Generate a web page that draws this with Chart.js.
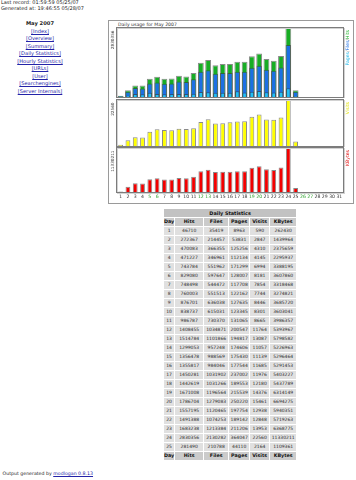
<!DOCTYPE html>
<html>
<head>
<meta charset="utf-8">
<script src="https://cdn.jsdelivr.net/npm/chart.js@4/dist/chart.umd.min.js"></script>
<style>
  html, body { margin:0; padding:0; background:#fff; }
  body { width:356px; height:480px; position:relative; overflow:hidden; font-family:"DejaVu Sans", Verdana, sans-serif; color:#222; }
  .hdr { position:absolute; left:1px; top:0px; font-size:5px; line-height:5.6px; white-space:nowrap; }
  .nav { position:absolute; left:0; top:20.3px; width:80px; text-align:center; font-size:5.1px; line-height:7.5px; }
  .nav b { font-size:5.2px; }
  a { color:#2323a8; text-decoration:underline; }
  .box { position:absolute; left:108px; top:20px; width:244px; height:182px; border:1px solid #9a9a9a; background:#fff; }
  .ttl { position:absolute; left:118px; top:21.6px; font-size:4.6px; line-height:5px; white-space:nowrap; color:#333; }
  canvas { position:absolute; left:108px; }
  #c1 { top:27px; } #c2 { top:99px; } #c3 { top:147px; }
  table.ds { position:absolute; left:163px; top:208px; border-collapse:separate; border-spacing:1px; background:#fff; font-size:4.5px; }
  table.ds td { height:8px; padding:0; line-height:8px; text-align:center; background:#e0e0e0; color:#2a2a2a; white-space:nowrap; }
  table.ds td.h { background:#cbcbcb; font-weight:bold; color:#111; font-size:4.8px; }
  table.ds td.t { background:#c2c2c2; font-weight:bold; color:#111; font-size:4.9px; }
  .foot { position:absolute; left:2.5px; top:471px; font-size:4.7px; line-height:5px; white-space:nowrap; }
</style>
</head>
<body>
<div class="hdr">Last record: 01:59:59 05/25/07<br>Generated at: 19:46:55 05/28/07</div>
<div class="nav">
  <b>May 2007</b><br>
  <a href="#">[Index]</a><br>
  <a href="#">[Overview]</a><br>
  <a href="#">[Summary]</a><br>
  <a href="#">[Daily Statistics]</a><br>
  <a href="#">[Hourly Statistics]</a><br>
  <a href="#">[URLs]</a><br>
  <a href="#">[User]</a><br>
  <a href="#">[Searchengines]</a><br>
  <a href="#">[Server Internals]</a>
</div>
<div class="box"></div>
<div class="ttl">Daily usage for May 2007</div>
<canvas id="c1" width="245" height="71"></canvas>
<canvas id="c2" width="245" height="48"></canvas>
<canvas id="c3" width="245" height="55"></canvas>
<table class="ds" id="tbl"></table>
<div class="foot">Output generated by <a href="#">modlogan 0.8.13</a></div>

<script>
// ---- data ----
const dayLabels = ['1','2','3','4','5','6','7','8','9','10','11','12','13','14','15','16','17','18','19','20','21','22','23','24','25','26','27','28','29','30','31'];
const weekendDays = ['5','6','12','13','19','20','26','27'];
const tableDays = ['1','2','3','4','5','6','7','8','9','10','11','12','13','14','15','16','17','18','19','20','21','22','23','24','25'];
const hits   = [46710,272367,470083,471227,743784,829080,748498,760003,876701,838737,986787,1408455,1514784,1299053,1356478,1355817,1450281,1442619,1671008,1786704,1557195,1491388,1683238,2830356,281490];
const files  = [35419,214457,366355,346961,551962,597647,544472,551513,636038,615031,730370,1034871,1101866,957248,988569,984046,1031902,1031266,1196564,1279083,1120465,1074253,1213384,2130282,210788];
const pages  = [8963,53831,125256,112134,171299,128007,117708,122162,127635,123345,131065,200547,194817,174606,175430,177544,237002,189553,215539,250220,197754,189142,211206,364047,44110];
const visits = [590,2847,4310,4145,6994,8181,7854,7744,8446,8301,8665,11764,13087,11057,11139,11685,11976,12180,14376,15461,12938,12848,13953,22560,2164];
const kbytes = [262430,1439964,2375659,2295937,3388195,3607860,3318468,3274821,3685720,3603041,3986357,5393967,5798582,5226963,5296464,5291453,5403227,5437789,6314149,6694275,5940351,5719263,6368775,11330211,1109361];
const tableHeader = ['Day','Hits','Files','Pages','Visits','KBytes'];

// ---- table ----
(function(){
  const t = document.getElementById('tbl');
  const widths = [10,28,24,20,19,26];
  let h = '<tr><td class="t" colspan="6">Daily Statistics</td></tr>';
  h += '<tr>' + tableHeader.map((s,i)=>'<td class="h" style="width:'+widths[i]+'px">'+s+'</td>').join('') + '</tr>';
  for (let i = 0; i < tableDays.length; i++) {
    h += '<tr><td>'+tableDays[i]+'</td><td>'+hits[i]+'</td><td>'+files[i]+'</td><td>'+pages[i]+'</td><td>'+visits[i]+'</td><td>'+kbytes[i]+'</td></tr>';
  }
  h += '<tr>' + tableHeader.map(s=>'<td class="h">'+s+'</td>').join('') + '</tr>';
  t.innerHTML = h;
})();

// ---- charts ----
const FONT = '"DejaVu Sans"';
const panelDecor = {
  id: 'panelDecor',
  afterDraw(chart, args, o) {
    const {ctx, chartArea: a} = chart;
    ctx.save();
    const L = Math.round(a.left), T = Math.round(a.top), W = Math.round(a.right) - L, H = Math.round(a.bottom) - T;
    ctx.strokeStyle = '#d2d2d2'; ctx.lineWidth = 1;
    ctx.strokeRect(L + 0.5, T + 0.5, W + 1, H + 1);
    ctx.strokeStyle = '#7c7c7c';
    ctx.strokeRect(L - 0.5, T - 0.5, W + 1, H + 1);
    // left max label (reads upward)
    ctx.save();
    ctx.font = '4.2px ' + FONT;
    ctx.fillStyle = '#333';
    ctx.translate(L - 2, T + 2.5);
    ctx.rotate(-Math.PI / 2);
    ctx.textAlign = 'right'; ctx.textBaseline = 'bottom';
    ctx.fillText(o.leftText, 0, 0);
    ctx.restore();
    // right coloured label (reads upward)
    ctx.save();
    ctx.font = '4.6px ' + FONT;
    ctx.translate(L + W + 7.5, T + 2);
    ctx.rotate(-Math.PI / 2);
    ctx.textAlign = 'left'; ctx.textBaseline = 'bottom';
    const segs = o.rightSegs;
    const total = segs.reduce((s, g) => s + ctx.measureText(g[0]).width, 0);
    let x = -total;
    segs.forEach(g => { ctx.fillStyle = g[1]; ctx.fillText(g[0], x, 0); x += ctx.measureText(g[0]).width; });
    ctx.restore();
    ctx.restore();
  }
};

function baseOptions(leftText, rightSegs, showX, padBottom) {
  return {
    responsive: false, animation: false, devicePixelRatio: 1,
    layout: { padding: { left: 9, right: 10, top: 1, bottom: padBottom } },
    plugins: { legend: { display: false }, tooltip: { enabled: false }, panelDecor: { leftText, rightSegs } },
    scales: {
      x: {
        display: showX, offset: true,
        grid: { display: false, drawTicks: false }, border: { display: false },
        ticks: {
          autoSkip: false, maxRotation: 0, minRotation: 0, padding: 2,
          font: { family: FONT, size: 4.6 },
          color: c => weekendDays.includes(dayLabels[c.index]) ? '#2aa02a' : '#333'
        }
      },
      y: { display: false, beginAtZero: true, bounds: 'data', grace: '2%' }
    }
  };
}
const edge = 'rgba(60,60,60,0.6)';

new Chart(document.getElementById('c1'), {
  type: 'bar',
  data: { labels: dayLabels, datasets: [
    { label: 'Pages', data: pages, backgroundColor: '#22c0f2', borderColor: edge, borderWidth: 1, grouped: false, barPercentage: 0.62, categoryPercentage: 1 },
    { label: 'Files', data: files, backgroundColor: '#1c6fe4', borderColor: edge, borderWidth: 1, grouped: false, barPercentage: 0.74, categoryPercentage: 1 },
    { label: 'Hits',  data: hits,  backgroundColor: '#17ad24', borderColor: edge, borderWidth: 1, grouped: false, barPercentage: 0.8, categoryPercentage: 1 }
  ]},
  options: baseOptions(String(Math.max(...hits)), [['Pages','#22b8e8'],['/','#555'],['Files','#1c6fe4'],['/','#555'],['Hits','#17ad24']], false, 1),
  plugins: [panelDecor]
});
new Chart(document.getElementById('c2'), {
  type: 'bar',
  data: { labels: dayLabels, datasets: [
    { label: 'Visits', data: visits, backgroundColor: '#ffff00', borderColor: edge, borderWidth: 1, barPercentage: 0.66, categoryPercentage: 1 }
  ]},
  options: baseOptions(String(Math.max(...visits)), [['Visits','#e0e000']], false, 1),
  plugins: [panelDecor]
});
new Chart(document.getElementById('c3'), {
  type: 'bar',
  data: { labels: dayLabels, datasets: [
    { label: 'KBytes', data: kbytes, backgroundColor: '#f20000', borderColor: edge, borderWidth: 1, barPercentage: 0.66, categoryPercentage: 1 }
  ]},
  options: baseOptions(String(Math.max(...kbytes)), [['KBytes','#e00000']], true, 0),
  plugins: [panelDecor]
});
</script>
</body>
</html>
